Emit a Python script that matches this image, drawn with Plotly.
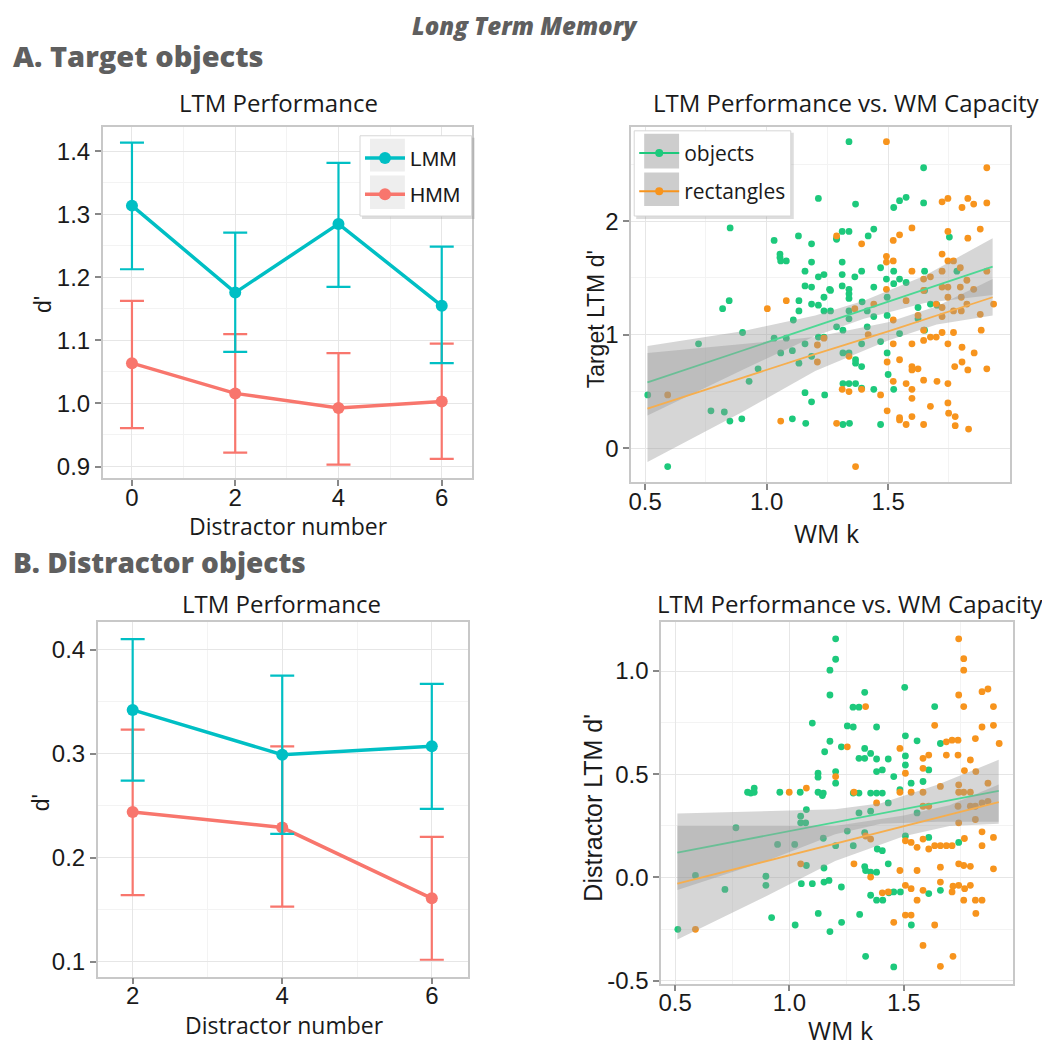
import plotly.graph_objects as go

# ---------------- data ----------------
# Panel A left: target LTM performance
distA = [0, 2, 4, 6]
lmmA = [1.314, 1.176, 1.285, 1.155]
lmmA_hi = [1.414, 1.271, 1.382, 1.249]
lmmA_lo = [1.213, 1.082, 1.185, 1.064]
hmmA = [1.064, 1.016, 0.993, 1.003]
hmmA_hi = [1.163, 1.110, 1.080, 1.095]
hmmA_lo = [0.961, 0.922, 0.903, 0.912]

# Panel B left: distractor LTM performance
distB = [2, 4, 6]
lmmB = [0.342, 0.299, 0.307]
lmmB_hi = [0.410, 0.375, 0.367]
lmmB_lo = [0.274, 0.223, 0.247]
hmmB = [0.244, 0.229, 0.161]
hmmB_hi = [0.323, 0.307, 0.220]
hmmB_lo = [0.164, 0.153, 0.102]

# Panel A right: target LTM d' vs WM k
objA_x = [0.511, 0.593, 0.720, 0.771, 0.819, 0.826, 0.846, 0.849, 0.850, 0.901, 0.898, 0.928, 0.965,
          1.031, 1.031, 1.055, 1.055, 1.058, 1.058, 1.081, 1.081, 1.106, 1.110, 1.106, 1.131, 1.133,
          1.133, 1.133, 1.158, 1.158, 1.158, 1.158, 1.161, 1.185, 1.185, 1.185, 1.185, 1.185, 1.185,
          1.213, 1.213, 1.213, 1.213, 1.236, 1.236, 1.236, 1.236, 1.239, 1.259, 1.263, 1.263, 1.288,
          1.288, 1.288, 1.311, 1.311, 1.311, 1.311, 1.314, 1.314, 1.314, 1.314, 1.339, 1.339, 1.339,
          1.339, 1.339, 1.339, 1.339, 1.339, 1.339, 1.341, 1.363, 1.366, 1.366, 1.366, 1.366, 1.391,
          1.391, 1.391, 1.391, 1.393, 1.414, 1.414, 1.418, 1.441, 1.441, 1.441, 1.441, 1.469, 1.469,
          1.469, 1.493, 1.496, 1.496, 1.496, 1.500, 1.523, 1.523, 1.523, 1.523, 1.547, 1.547, 1.547,
          1.574, 1.574, 1.623, 1.623, 1.646, 1.646, 1.650, 1.650, 1.650, 1.674, 1.701, 1.752, 1.783]
objA_y = [0.47, -0.16, 0.92, 0.33, 1.23, 0.32, 1.30, 0.24, 1.94, 1.02, 0.26, 0.59, 0.70,
          1.83, 0.97, 1.71, 1.68, 1.65, 0.84, 1.65, 0.97, 0.26, 1.13, 0.86, 1.87, 1.30,
          1.21, 0.75, 1.56, 1.43, 0.92, 0.49, 0.22, 1.80, 1.64, 1.42, 1.27, 0.81, 0.41,
          1.51, 1.26, 2.20, 0.98, 1.53, 1.33, 1.21, 0.98, 0.47, 1.40, 1.21, 1.39, 1.85,
          1.84, 1.07, 1.64, 1.91, 1.53, 1.43, 1.04, 0.84, 0.57, 0.21, 2.70, 1.91, 1.40,
          1.36, 1.32, 1.21, 1.14, 0.84, 0.57, 0.22, 1.51, 2.15, 0.78, 0.75, 0.57, 1.56,
          0.92, 0.72, 0.53, 1.29, 1.07, 1.21, 1.87, 1.93, 1.16, 1.42, 0.52, 1.59, 0.94,
          0.21, 1.49, 1.33, 1.17, 0.84, 0.65, 2.12, 1.56, 1.45, 0.52, 2.18, 1.49, 1.01,
          2.21, 1.46, 1.24, 1.14, 2.47, 2.16, 1.56, 1.39, 1.04, 1.27, 1.26, 1.86, 1.56]
rectA_x = [0.593, 1.003, 1.058, 1.081, 1.209, 1.209, 1.236, 1.288, 1.288, 1.311, 1.339, 1.339, 1.363,
           1.366, 1.391, 1.391, 1.418, 1.441, 1.469, 1.493, 1.493, 1.493, 1.493, 1.496, 1.496, 1.521,
           1.521, 1.521, 1.521, 1.521, 1.547, 1.547, 1.547, 1.547, 1.574, 1.574, 1.574, 1.598, 1.598,
           1.598, 1.598, 1.598, 1.598, 1.598, 1.598, 1.623, 1.623, 1.646, 1.646, 1.646, 1.646, 1.646,
           1.646, 1.674, 1.674, 1.674, 1.698, 1.698, 1.701, 1.722, 1.722, 1.722, 1.722, 1.722, 1.722,
           1.722, 1.746, 1.746, 1.746, 1.746, 1.746, 1.746, 1.746, 1.746, 1.749, 1.769, 1.769, 1.769,
           1.774, 1.776, 1.776, 1.797, 1.797, 1.801, 1.801, 1.804, 1.804, 1.804, 1.824, 1.824, 1.828,
           1.828, 1.828, 1.831, 1.852, 1.852, 1.854, 1.879, 1.879, 1.883, 1.906, 1.906, 1.906, 1.906,
           1.934]
rectA_y = [0.47, 1.23, 0.24, 1.30, 0.76, 0.91, 0.97, 1.87, 0.22, 0.52, 0.81, 0.50, 1.23,
           -0.16, 1.80, 0.52, 1.00, 1.27, 0.47, 2.70, 1.69, 1.64, 1.40, 0.76, 0.33, 1.83,
           1.65, 0.92, 0.59, 1.13, 1.88, 0.78, 0.27, 0.25, 1.30, 0.57, 0.21, 1.94, 1.56,
           0.52, 0.44, 0.92, 0.72, 0.69, 0.28, 1.17, 0.70, 1.49, 1.39, 1.04, 0.95, 0.60,
           0.21, 1.51, 0.98, 0.37, 1.27, 0.98, 0.59, 2.17, 1.71, 1.56, 1.42, 1.24, 1.16,
           1.02, 2.20, 1.91, 1.42, 1.33, 1.65, 0.92, 0.57, 0.40, 0.31, 1.65, 1.21, 1.02,
           0.72, 0.28, 0.20, 1.59, 1.42, 1.33, 1.21, 2.12, 0.89, 0.76, 1.48, 1.27, 2.20,
           1.85, 0.69, 0.17, 2.15, 1.40, 0.84, 1.93, 1.18, 1.04, 2.47, 2.16, 1.56, 0.70,
           1.27]

# Panel B right: distractor LTM d' vs WM k
objB_x = [0.512, 0.589, 0.718, 0.766, 0.817, 0.831, 0.846, 0.846, 0.897, 0.897, 0.922, 0.948, 0.958,
          1.023, 1.025, 1.047, 1.049, 1.049, 1.052, 1.071, 1.074, 1.074, 1.100, 1.100, 1.125, 1.125,
          1.125, 1.126, 1.144, 1.148, 1.148, 1.151, 1.151, 1.154, 1.173, 1.177, 1.177, 1.177, 1.177,
          1.202, 1.202, 1.202, 1.202, 1.202, 1.227, 1.227, 1.228, 1.253, 1.253, 1.278, 1.279, 1.279,
          1.279, 1.304, 1.304, 1.304, 1.304, 1.307, 1.329, 1.329, 1.329, 1.329, 1.329, 1.333, 1.333,
          1.355, 1.355, 1.355, 1.355, 1.355, 1.381, 1.381, 1.381, 1.381, 1.381, 1.381, 1.384, 1.406,
          1.406, 1.406, 1.408, 1.432, 1.432, 1.432, 1.435, 1.456, 1.456, 1.456, 1.483, 1.485, 1.504,
          1.507, 1.507, 1.507, 1.507, 1.532, 1.533, 1.558, 1.558, 1.584, 1.609, 1.609, 1.609, 1.635,
          1.660, 1.660, 1.740]
objB_y = [-0.251, 0.010, -0.058, 0.241, 0.413, 0.409, 0.433, 0.413, 0.006, -0.038, -0.194, 0.160, 0.413,
          0.160, -0.230, 0.413, 0.297, 0.265, -0.030, 0.265, 0.329, 0.058, 0.748, -0.030, 0.505, 0.486,
          0.413, -0.174, 0.397, 0.409, 0.190, 0.046, -0.022, 0.609, -0.014, 1.004, 0.884, 0.660, -0.262,
          1.156, 1.057, 0.513, 0.457, 0.154, 0.633, -0.046, -0.217, 0.734, 0.225, 0.825, 0.729, 0.409,
          0.154, 0.825, 0.577, 0.313, 0.409, -0.179, 0.897, 0.625, 0.577, 0.217, 0.053, -0.382, 0.034,
          0.601, 0.409, 0.321, 0.026, -0.086, 0.574, 0.409, 0.729, 0.513, 0.026, -0.110, 0.138, 0.409,
          0.521, 0.130, -0.110, 0.574, 0.361, 0.066, -0.074, -0.433, -0.070, 0.489, 0.425, -0.070, 0.921,
          0.686, 0.589, 0.545, 0.201, 0.457, -0.230, 0.662, 0.313, 0.465, 0.521, 0.194, -0.078, 0.828,
          0.649, -0.062, 0.170]
rectB_x = [0.589, 0.999, 1.049, 1.074, 1.202, 1.253, 1.282, 1.282, 1.333, 1.333, 1.355, 1.355, 1.381,
           1.406, 1.432, 1.456, 1.483, 1.483, 1.483, 1.507, 1.507, 1.507, 1.507, 1.532, 1.532, 1.532,
           1.532, 1.558, 1.558, 1.558, 1.584, 1.584, 1.584, 1.584, 1.584, 1.584, 1.584, 1.609, 1.609,
           1.609, 1.635, 1.635, 1.635, 1.660, 1.660, 1.660, 1.660, 1.660, 1.686, 1.686, 1.686, 1.711,
           1.711, 1.711, 1.715, 1.715, 1.737, 1.737, 1.740, 1.740, 1.740, 1.740, 1.740, 1.740, 1.740,
           1.762, 1.762, 1.762, 1.762, 1.762, 1.762, 1.765, 1.765, 1.766, 1.791, 1.791, 1.791, 1.791,
           1.813, 1.813, 1.815, 1.813, 1.815, 1.842, 1.842, 1.842, 1.842, 1.842, 1.868, 1.868, 1.892,
           1.892, 1.892, 1.892, 1.917, 1.737, 1.791, 1.813, 1.842, 1.868]
rectB_y = [-0.251, 0.413, 0.066, 0.433, 0.489, 0.633, 0.413, 0.066, 0.828, 0.201, 0.186, 0.002, 0.361,
           -0.074, -0.070, -0.217, 0.034, 0.625, 0.413, -0.038, 0.505, -0.182, 0.178, -0.182, 0.413, 0.170,
           -0.054, 0.146, -0.110, 0.034, 0.413, 0.577, 0.345, -0.329, 0.529, 0.186, -0.062, 0.593, 0.345,
           0.138, 0.737, 0.154, -0.230, -0.430, 0.154, 0.050, -0.022, 0.441, 0.657, 0.154, 0.593, 0.665,
           0.154, -0.070, -0.382, -0.042, 0.593, 0.665, 0.413, 0.449, 0.265, 1.156, 0.884, -0.038, 0.066,
           -0.110, 1.060, 1.004, 0.828, 0.413, 0.058, 0.518, 0.189, -0.054, -0.038, 0.054, 0.413, 0.569,
           0.281, 0.673, 0.513, -0.110, -0.174, 0.729, 0.154, 0.221, -0.110, 0.900, 0.913, 0.457, 0.737,
           0.828, 0.194, 0.042, 0.649, 0.345, 0.345, 0.345, 0.361, 0.369]

# regression lines and 95% bands
fitA_x = [0.51, 0.9, 1.2, 1.4, 1.65, 1.93]
objA_fit = [0.58, 0.86, 1.08, 1.22, 1.40, 1.60]
objA_lo = [0.29, 0.69, 0.99, 1.14, 1.28, 1.35]
objA_hi = [0.90, 1.03, 1.17, 1.30, 1.52, 1.85]
fitA_x2 = [0.51, 0.9, 1.2, 1.5, 1.7, 1.93]
rectA_fit = [0.35, 0.62, 0.83, 1.03, 1.17, 1.33]
rectA_lo = [-0.12, 0.32, 0.68, 0.95, 1.09, 1.17]
rectA_hi = [0.84, 0.92, 0.98, 1.11, 1.25, 1.49]

fitB_x = [0.51, 0.9, 1.2, 1.4, 1.65, 1.915]
objB_fit = [0.12, 0.203, 0.267, 0.31, 0.363, 0.42]
objB_lo = [-0.06, 0.08, 0.21, 0.26, 0.27, 0.27]
objB_hi = [0.31, 0.32, 0.33, 0.36, 0.45, 0.57]
fitB_x2 = [0.51, 0.9, 1.2, 1.5, 1.7, 1.915]
rectB_fit = [-0.03, 0.08, 0.164, 0.248, 0.304, 0.365]
rectB_lo = [-0.30, -0.09, 0.08, 0.20, 0.25, 0.26]
rectB_hi = [0.25, 0.25, 0.25, 0.30, 0.35, 0.45]

# ---------------- style ----------------
C_LMM = "#00BFC4"
C_HMM = "#F8766D"
C_OBJ = "#1DC97C"
C_RECT = "#F7941D"
C_OBJ_LINE = "#4CD894"
C_RECT_LINE = "#F6AE4E"
BAND = "rgba(153,153,153,0.4)"
TICKFONT = dict(family="Liberation Sans, Arial, sans-serif", size=24, color="#1a1a1a")
W = H = 1050.0
OFF = 8.0  # page body margin compensation


def X(px):
    return (px - OFF) / W


def Y(py):
    return 1 - (py - OFF) / H


fig = go.Figure()


def perf_traces(x, m, hi, lo, color, name, xa, ya, show, rank):
    fig.add_trace(go.Scatter(
        x=x, y=m, mode="lines+markers", name=name, xaxis=xa, yaxis=ya,
        line=dict(color=color, width=3.5), marker=dict(color=color, size=12),
        error_y=dict(type="data", symmetric=False,
                     array=[h - v for h, v in zip(hi, m)],
                     arrayminus=[v - l for v, l in zip(m, lo)],
                     color=color, thickness=2.2, width=12),
        showlegend=show, legend="legend", legendgroup=name, legendrank=rank))


perf_traces(distA, hmmA, hmmA_hi, hmmA_lo, C_HMM, "HMM", "x", "y", True, 2)
perf_traces(distA, lmmA, lmmA_hi, lmmA_lo, C_LMM, "LMM", "x", "y", True, 1)
perf_traces(distB, hmmB, hmmB_hi, hmmB_lo, C_HMM, "HMM", "x3", "y3", False, 2)
perf_traces(distB, lmmB, lmmB_hi, lmmB_lo, C_LMM, "LMM", "x3", "y3", False, 1)


def scatter_panel(xa, ya, ox, oy, rx, ry, bands):
    fig.add_trace(go.Scatter(x=ox, y=oy, mode="markers", xaxis=xa, yaxis=ya, showlegend=False,
                             marker=dict(color=C_OBJ, size=6.8)))
    fig.add_trace(go.Scatter(x=rx, y=ry, mode="markers", xaxis=xa, yaxis=ya, showlegend=False,
                             marker=dict(color=C_RECT, size=6.8)))
    for bx, lo, hi, fit, lc in bands:
        fig.add_trace(go.Scatter(x=bx, y=lo, mode="lines", line=dict(width=0), xaxis=xa, yaxis=ya,
                                 showlegend=False, hoverinfo="skip"))
        fig.add_trace(go.Scatter(x=bx, y=hi, mode="lines", line=dict(width=0), fill="tonexty",
                                 fillcolor=BAND, xaxis=xa, yaxis=ya, showlegend=False, hoverinfo="skip"))
        fig.add_trace(go.Scatter(x=bx, y=fit, mode="lines", line=dict(color=lc, width=1.8),
                                 xaxis=xa, yaxis=ya, showlegend=False))


scatter_panel("x2", "y2", objA_x, objA_y, rectA_x, rectA_y,
              [(fitA_x, objA_lo, objA_hi, objA_fit, C_OBJ_LINE),
               (fitA_x2, rectA_lo, rectA_hi, rectA_fit, C_RECT_LINE)])
scatter_panel("x4", "y4", objB_x, objB_y, rectB_x, rectB_y,
              [(fitB_x, objB_lo, objB_hi, objB_fit, C_OBJ_LINE),
               (fitB_x2, rectB_lo, rectB_hi, rectB_fit, C_RECT_LINE)])

# legend entries for the scatter panels
for nm, c in [("objects", C_OBJ), ("rectangles", C_RECT)]:
    fig.add_trace(go.Scatter(x=[None], y=[None], mode="lines+markers", name=nm, xaxis="x2", yaxis="y2",
                             line=dict(color=c, width=2), marker=dict(color=c, size=8),
                             legend="legend2", legendgroup=nm))


def axis(left_or_top, right_or_bottom, is_x, rng, tickvals, ticktext, minor_vals, anchor):
    if is_x:
        dom = [X(left_or_top), X(right_or_bottom)]
    else:
        dom = [Y(right_or_bottom), Y(left_or_top)]
    d = dict(domain=dom, range=rng, tickmode="array", tickvals=tickvals, ticktext=ticktext,
             showgrid=True, gridcolor="#e6e6e6", gridwidth=1.2,
             minor=dict(tickmode="array", tickvals=minor_vals, showgrid=True, gridcolor="#f3f3f3",
                        gridwidth=1, ticks=""),
             showline=True, linecolor="#c8c8c8", linewidth=1.5, mirror=True,
             ticks="outside", ticklen=6, tickcolor="#888", tickwidth=1.5,
             tickfont=TICKFONT, zeroline=False, anchor=anchor)
    if is_x:
        d["ticklabelstandoff"] = -9
    return d


fig.update_layout(
    width=1050, height=1050, margin=dict(l=0, r=0, t=0, b=0),
    paper_bgcolor="white", plot_bgcolor="white",
    xaxis=axis(100, 470, True, [-0.566, 6.58], [0, 2, 4, 6], ["0", "2", "4", "6"], [1, 3, 5], "y"),
    yaxis=axis(128, 483, False, [0.881, 1.439], [0.9, 1.0, 1.1, 1.2, 1.3, 1.4],
               ["0.9", "1.0", "1.1", "1.2", "1.3", "1.4"], [0.95, 1.05, 1.15, 1.25, 1.35], "x"),
    xaxis2=axis(630, 1010, True, [0.443, 2.002], [0.5, 1.0, 1.5], ["0.5", "1.0", "1.5"],
                [0.75, 1.25, 1.75], "y2"),
    yaxis2=axis(128, 487, False, [-0.30, 2.83], [0, 1, 2], ["0", "1", "2"], [0.5, 1.5, 2.5], "x2"),
    xaxis3=axis(95, 466, True, [1.533, 6.48], [2, 4, 6], ["2", "4", "6"], [3, 5], "y3"),
    yaxis3=axis(628, 986, False, [0.0857, 0.4264], [0.1, 0.2, 0.3, 0.4], ["0.1", "0.2", "0.3", "0.4"],
                [0.15, 0.25, 0.35], "x3"),
    xaxis4=axis(660, 1013, True, [0.439, 1.978], [0.5, 1.0, 1.5], ["0.5", "1.0", "1.5"],
                [0.75, 1.25, 1.75], "y4"),
    yaxis4=axis(628, 993, False, [-0.514, 1.237], [-0.5, 0.0, 0.5, 1.0], ["-0.5", "0.0", "0.5", "1.0"],
                [-0.25, 0.25, 0.75], "x4"),
    legend=dict(x=X(358), y=Y(139), xanchor="left", yanchor="top", bgcolor="rgba(0,0,0,0)",
                borderwidth=0, traceorder="grouped",
                font=dict(family="Liberation Sans, Arial, sans-serif", size=21, color="#1a1a1a"),
                itemwidth=40, tracegroupgap=6),
    legend2=dict(x=X(633), y=Y(134), xanchor="left", yanchor="top", bgcolor="rgba(0,0,0,0)",
                 borderwidth=0, traceorder="grouped",
                 font=dict(family="Open Sans, sans-serif", size=21, color="#1a1a1a"),
                 itemwidth=40, tracegroupgap=8),
)

# legend boxes and key backgrounds (drawn beneath the transparent legends)
shapes = []


def rect(x0, y0, x1, y1, fill, line="rgba(0,0,0,0)", lw=0):
    shapes.append(dict(type="rect", xref="paper", yref="paper", x0=X(x0), x1=X(x1), y0=Y(y1), y1=Y(y0),
                       fillcolor=fill, line=dict(color=line, width=lw), layer="above"))


rect(360, 139, 473, 221, "rgba(120,120,120,0.25)")   # soft shadow
rect(358, 137, 470, 218, "white", "#d6d6d6", 1)
rect(368, 140, 403, 173, "#eeeeee")
rect(368, 177, 403, 211, "#eeeeee")
rect(635, 134, 793, 221, "rgba(120,120,120,0.25)")
rect(633, 132, 790, 218, "white", "#d6d6d6", 1)
rect(643, 135, 678, 170, "#cdcdcd")
rect(643, 174, 678, 208, "#cdcdcd")
fig.update_layout(shapes=shapes)

ann = []


def text(x, y, s, size, family, color="#1a1a1a", weight="normal", style="normal", angle=0, xanchor="center"):
    ann.append(dict(x=X(x), y=Y(y), xref="paper", yref="paper", text=s, showarrow=False,
                    xanchor=xanchor, yanchor="middle", textangle=angle,
                    font=dict(size=size, family=family, color=color, weight=weight, style=style)))


TITLE_F = "Open Sans, sans-serif"
AX_F = "Liberation Sans, Arial, sans-serif"
text(523, 26, "Long Term Memory", 24, "Open Sans, sans-serif", color="#5f5f5f", weight=800, style="italic")
text(8, 56, "A. Target objects", 29, "Open Sans, sans-serif", color="#5f5f5f", weight=800, xanchor="left")
text(8, 567, "B. Distractor objects", 28, "Open Sans, sans-serif", color="#5f5f5f", weight=800, xanchor="left")
text(276, 103, "LTM Performance", 24, TITLE_F)
text(846, 103, "LTM Performance vs. WM Capacity", 24, TITLE_F)
text(279, 609, "LTM Performance", 24, TITLE_F)
text(850, 609, "LTM Performance vs. WM Capacity", 24, TITLE_F)
text(286, 531, "Distractor number", 23, TITLE_F)
text(282, 1035, "Distractor number", 23, TITLE_F)
text(826, 538, "WM k", 25, TITLE_F)
text(840, 1040, "WM k", 25, TITLE_F)
text(40, 307, "d'", 23, AX_F, angle=-90)
text(38, 810, "d'", 23, AX_F, angle=-90)
text(595, 322, "Target LTM d'", 23, AX_F, angle=-90)
text(592, 815, "Distractor LTM d'", 25, AX_F, angle=-90)
fig.update_layout(annotations=ann)

fig.write_html("out.html")
